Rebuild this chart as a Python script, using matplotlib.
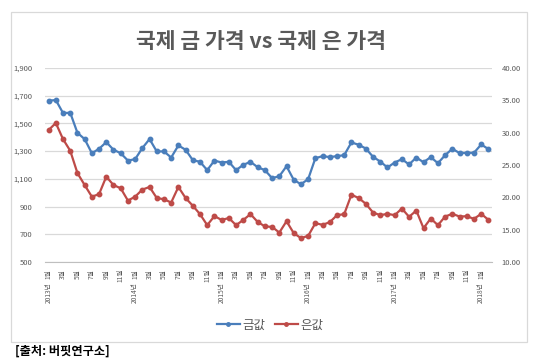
import matplotlib
matplotlib.use("Agg")
import matplotlib.pyplot as plt
from matplotlib.patches import Rectangle
from matplotlib.lines import Line2D

plt.rcParams['font.family'] = ['Noto Sans CJK KR', 'DejaVu Sans']

title = "국제 금 가격 vs 국제 은 가격"
source = "[출처: 버핏연구소]"
series_names = ["금값", "은값"]

gold = [1664, 1669, 1575, 1577, 1432, 1387, 1285, 1317, 1365, 1310, 1285, 1232,
        1242, 1322, 1387, 1298, 1298, 1254, 1341, 1310, 1235, 1223, 1163, 1232,
        1218, 1223, 1163, 1201, 1223, 1184, 1163, 1105, 1119, 1191, 1093, 1061,
        1098, 1249, 1264, 1257, 1264, 1271, 1363, 1346, 1319, 1259, 1225, 1182,
        1218, 1242, 1204, 1254, 1220, 1257, 1213, 1271, 1317, 1286, 1288, 1288,
        1348, 1315]
silver = [30.4, 31.5, 29.0, 27.2, 23.75, 21.9, 20.1, 20.5, 23.2, 21.9, 21.4, 19.5,
          20.1, 21.2, 21.6, 19.9, 19.7, 19.2, 21.6, 19.9, 18.7, 17.4, 15.7, 17.1,
          16.5, 16.8, 15.7, 16.5, 17.4, 16.2, 15.5, 15.43, 14.55, 16.3, 14.46, 13.7,
          14.04, 16.0, 15.75, 16.16, 17.24, 17.4, 20.4, 19.9, 19.0, 17.65, 17.24,
          17.45, 17.24, 18.27, 16.98, 17.96, 15.23, 16.72, 15.7, 17.03, 17.45, 17.03,
          17.08, 16.67, 17.45, 16.52]
start_year = 2013
left_ticks = [500, 700, 900, 1100, 1300, 1500, 1700, 1900]
right_ticks = [10, 15, 20, 25, 30, 35, 40]

n = len(gold)
xs = list(range(n))
# month / year labels
tick_pos = [i for i in xs if i % 2 == 0]
month_labels = [f"{i % 12 + 1}월" for i in tick_pos]
year_pos = [i for i in xs if i % 12 == 0]
year_labels = [f"{start_year + i // 12}년" for i in year_pos]

W, H = 537, 363
fig = plt.figure(figsize=(W / 100, H / 100), dpi=100)
fig.patch.set_facecolor("white")

# border box
fig.patches.append(Rectangle((11 / W, 1 - 342 / H), (527 - 11) / W, (342 - 12) / H,
                             transform=fig.transFigure, fill=False,
                             edgecolor="#D9D9D9", linewidth=0.9))

ax = fig.add_axes([45 / W, 1 - 262 / H, (492 - 45) / W, (262 - 68) / H])
ax2 = ax.twinx()

blue = "#4A7EBB"
red = "#BE4B48"
grid_c = "#D9D9D9"
text_c = "#595959"

ax.plot(xs, gold, color=blue, lw=1.6, marker="o", ms=3.2, zorder=3)
ax2.plot(xs, silver, color=red, lw=1.6, marker="o", ms=3.2, zorder=3)

ax.set_xlim(-0.5, n - 0.5)
ax.set_ylim(500, 1900)
ax2.set_ylim(10, 40)
ax.set_yticks(left_ticks)
ax.set_yticklabels([f"{v:,}" for v in left_ticks])
ax2.set_yticks(right_ticks)
ax2.set_yticklabels([f"{v:.2f}" for v in right_ticks])
ax.grid(axis="y", color=grid_c, lw=0.9)
ax.set_axisbelow(True)

for a in (ax, ax2):
    for s in a.spines.values():
        s.set_visible(False)
    a.tick_params(axis="y", length=0, labelsize=5.5, labelcolor=text_c)
ax.tick_params(axis="y", pad=9)
ax2.tick_params(axis="y", pad=7)
ax.spines["bottom"].set_visible(True)
ax.spines["bottom"].set_color("#BFBFBF")
ax.spines["bottom"].set_linewidth(0.8)

ax.set_xticks(tick_pos)
ax.set_xticklabels(month_labels, rotation=90, fontsize=4.8, color=text_c)
ax.tick_params(axis="x", length=0, pad=5)
for p, lab in zip(year_pos, year_labels):
    ax.text(p, -20 / 194, lab, transform=ax.get_xaxis_transform(), rotation=90,
            ha="center", va="top", fontsize=4.8, color=text_c)

fig.text(260.5 / W, 1 - 42 / H, title, ha="center", va="center",
         fontsize=15.5, fontweight="bold", color=text_c)

handles = [Line2D([0], [0], color=blue, lw=1.6, marker="o", ms=2.5),
           Line2D([0], [0], color=red, lw=1.6, marker="o", ms=2.5)]
fig.legend(handles, series_names, loc="center", bbox_to_anchor=(270 / W, 1 - 325 / H),
           ncol=2, frameon=False, fontsize=9, labelcolor=text_c,
           handlelength=1.8, handletextpad=0.2, columnspacing=0.8)

fig.text(15 / W, 1 - 351 / H, source, ha="left", va="center",
         fontsize=8.8, fontweight="bold", color="black")

fig.savefig("out.png", dpi=100)
